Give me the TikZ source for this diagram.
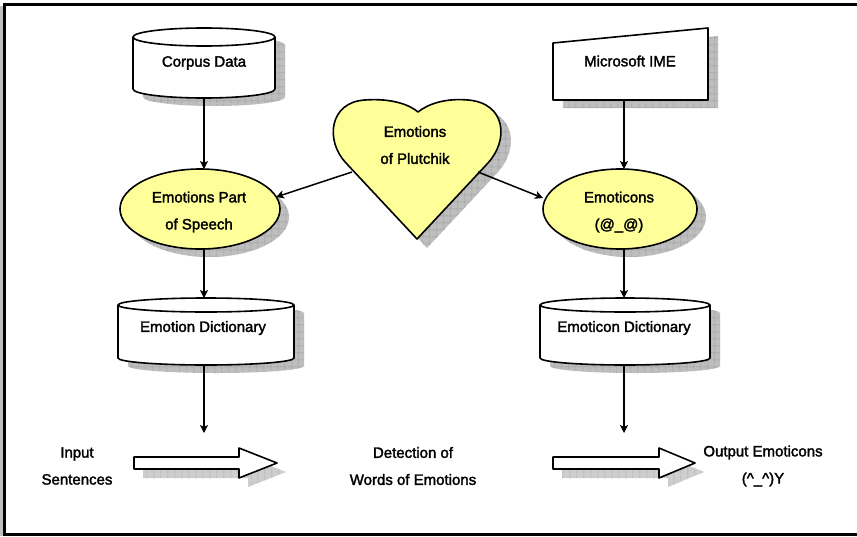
\documentclass[tikz,border=0pt]{standalone}
\usepackage{fontspec}
\setmainfont{Liberation Sans}[FakeBold=2]
\usetikzlibrary{arrows.meta,patterns.meta}

% silhouette of an upright cylinder: centre x, top y, bottom y, x radius, y radius
\newcommand\cylsil[5]{(#1-#4,#2) -- (#1-#4,#3)
  arc[start angle=180,end angle=360,x radius=#4pt,y radius=#5pt]
  -- (#1+#4,#2) arc[start angle=0,end angle=180,x radius=#4pt,y radius=#5pt] -- cycle}
% front rim of the cylinder lid
\newcommand\cylrim[5]{(#1-#4,#2) arc[start angle=180,end angle=360,x radius=#4pt,y radius=#5pt]}
% heart outline
\newcommand\heartsil{(417,239) -- (346,163) .. controls (325,141) and (329,102) .. (365,100)
  .. controls (392,98) and (410,105) .. (418,112) .. controls (428,104) and (445,98) .. (468,100)
  .. controls (506,103) and (509,140) .. (488,163) -- cycle}

\definecolor{paleyellow}{HTML}{FFFF99}
\definecolor{shadowgray}{HTML}{BEBEBE}
\definecolor{gridgray}{HTML}{9A9A9A}

\begin{document}
\begin{tikzpicture}[x=1pt,y=-1pt,
  outline/.style={draw=black,line width=1.6pt,line join=round},
  dropshade/.style={fill=shadowgray,
    postaction={pattern={Lines[angle=0,distance=6.5pt,line width=0.5pt]},pattern color=gridgray},
    postaction={pattern={Lines[angle=90,distance=6.5pt,line width=0.5pt]},pattern color=gridgray}},
  lightshade/.style={fill=shadowgray!75,
    postaction={pattern={Lines[angle=90,distance=6.5pt,line width=0.5pt]},pattern color=gridgray!85}},
  lbl/.style={font=\fontsize{15}{27}\selectfont,align=center,inner sep=0pt},
  flow/.style={line width=1.5pt,-{Stealth[length=8pt,width=8pt,inset=2pt]}}]

\useasboundingbox (0,0) rectangle (857,536);
\fill[white] (0,0) rectangle (857,536);

% frame
\draw[gray!50,line width=3pt] (1.5,6) -- (1.5,536);
\draw[line width=2.6pt] (857,4.5) -- (4.5,4.5) -- (4.5,534.5) -- (857,534.5);

% ---- shadows ----
\fill[dropshade,shift={(10,8)}] \cylsil{204}{37}{89}{71}{9};
\fill[dropshade,shift={(10,8)}] (553,43) -- (708,28) -- (708,100) -- (553,100) -- cycle;
\fill[dropshade,shift={(10,9)}] \heartsil;
\fill[dropshade,shift={(9,8)}] (200,209) ellipse[x radius=80pt,y radius=40pt];
\fill[dropshade,shift={(9,8)}] (620,209) ellipse[x radius=77pt,y radius=40pt];
\fill[dropshade,shift={(10,8)}] \cylsil{206}{305}{358}{88}{7};
\fill[dropshade,shift={(10,8)}] \cylsil{625}{305}{358}{85}{7};
\fill[lightshade,shift={(9,9)}] (134,457) -- (239,457) -- (239,448) -- (277,463) -- (239,478) -- (239,469) -- (134,469) -- cycle;
\fill[lightshade,shift={(9,9)}] (553,457) -- (659,457) -- (659,448) -- (695,463) -- (659,478) -- (659,469) -- (553,469) -- cycle;

% ---- shapes ----
% Corpus Data store
\draw[outline,fill=white] \cylsil{204}{37}{89}{71}{9};
\draw[outline] \cylrim{204}{37}{89}{71}{9};
% Microsoft IME manual input
\draw[outline,fill=white] (553,43) -- (708,28) -- (708,100) -- (553,100) -- cycle;
% heart
\draw[outline,fill=paleyellow] \heartsil;
% process ellipses
\draw[outline,fill=paleyellow] (200,209) ellipse[x radius=80pt,y radius=40pt];
\draw[outline,fill=paleyellow] (620,209) ellipse[x radius=77pt,y radius=40pt];
% dictionaries
\draw[outline,fill=white] \cylsil{206}{305}{358}{88}{7};
\draw[outline] \cylrim{206}{305}{358}{88}{7};
\draw[outline,fill=white] \cylsil{625}{305}{358}{85}{7};
\draw[outline] \cylrim{625}{305}{358}{85}{7};
% block arrows
\draw[outline,fill=white] (134,457) -- (239,457) -- (239,448) -- (277,463) -- (239,478) -- (239,469) -- (134,469) -- cycle;
\draw[outline,fill=white] (553,457) -- (659,457) -- (659,448) -- (695,463) -- (659,478) -- (659,469) -- (553,469) -- cycle;

% ---- labels ----
\node[lbl] (corpus) at (204,63) {Corpus Data};
\node[lbl] (ime) at (630,61) {Microsoft IME};
\node[lbl] (plutchik) at (415,145) {Emotions\\of Plutchik};
\node[lbl] (pos) at (199,212) {Emotions Part\\of Speech};
\node[lbl] (emoticons) at (619,212) {Emoticons\\(@\_@)};
\node[lbl] (emodict) at (203,328) {Emotion Dictionary};
\node[lbl] (icondict) at (624,328) {Emoticon Dictionary};
\node[lbl] (input) at (77,466) {Input\\Sentences};
\node[lbl] (detect) at (413,466) {Detection of\\Words of Emotions};
\node[lbl] (output) at (763,466) {Output Emoticons\\(\textasciicircum\_\textasciicircum)Y};

% ---- connector ends ----
\coordinate (corpusS) at (204,98);
\coordinate (posN) at (204,169);
\coordinate (posS) at (204,249);
\coordinate (emodictN) at (204,298);
\coordinate (emodictS) at (204,365);
\coordinate (leftEnd) at (204,433);
\coordinate (imeS) at (624,100);
\coordinate (emoticonsN) at (624,169);
\coordinate (emoticonsS) at (624,249);
\coordinate (icondictN) at (624,298);
\coordinate (icondictS) at (624,365);
\coordinate (rightEnd) at (624,433);
\coordinate (heartW) at (352,172);
\coordinate (posE) at (276,197);
\coordinate (heartE) at (478,172);
\coordinate (emoticonsW) at (543,198);

% ---- connectors ----
\draw[flow] (corpusS) -- (posN);
\draw[flow] (posS) -- (emodictN);
\draw[flow] (emodictS) -- (leftEnd);
\draw[flow] (imeS) -- (emoticonsN);
\draw[flow] (emoticonsS) -- (icondictN);
\draw[flow] (icondictS) -- (rightEnd);
\draw[flow] (heartW) -- (posE);
\draw[flow] (heartE) -- (emoticonsW);
\end{tikzpicture}
\end{document}
